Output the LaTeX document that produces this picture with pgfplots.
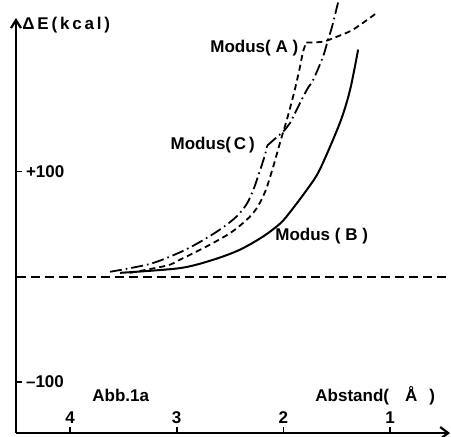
\documentclass[border=0pt]{standalone}
\usepackage{fontspec}
\setmainfont{Liberation Sans}
\usepackage{pgfplots}
\pgfplotsset{compat=1.18}
\usetikzlibrary{arrows.meta}

% Modus (B), solid
\pgfplotstableread{
d E
3.53 3.5
2.97 8
2.66 15.9
2.41 25.4
2.19 38.1
2.03 50.5
1.94 61
1.78 82.6
1.66 101.6
1.47 146.4
1.375 177.8
1.30 215.9
}\modusB

% Modus (A), dashed, lower branch
\pgfplotstableread{
d E
3.44 3.5
3.09 10.5
2.97 16
2.72 28.6
2.50 41.3
2.344 54
2.25 65
2.17 81
2.10 103
2.03 128
1.96 152
1.90 175
1.85 197
1.816 214
1.785 222.6
}\modusAlow

% Modus (A), dashed, upper branch
\pgfplotstableread{
d E
1.785 222.6
1.629 223.5
1.497 228.3
1.347 235
1.122 251.1
}\modusAup

% Modus (C), dash-dotted, lower branch
\pgfplotstableread{
d E
3.625 4.5
3.25 12
2.97 23
2.78 33
2.59 45
2.44 57
2.344 69
2.28 83
2.219 101
2.172 116
2.153 124.5
}\modusClow

% Modus (C), dash-dotted, upper branch
\pgfplotstableread{
d E
2.153 124.5
2.125 127
1.985 139.7
1.938 146.1
1.829 168.3
1.77 179.5
1.720 187.3
1.629 209.2
1.582 225.4
1.544 237.8
1.488 260.7
}\modusCup

\begin{document}
\begin{tikzpicture}
\begin{axis}[
  at={(0,0)}, anchor=south west,
  scale only axis, width=217pt, height=207.5pt,
  x dir=reverse,
  xmin=0.439, xmax=4.506,
  ymin=-148.9, ymax=246,
  axis x line=bottom, axis y line=left,
  axis line style={line width=1.1pt},
  x axis line style={{Straight Barb[length=4pt,width=6pt]}-},
  y axis line style={-{Straight Barb[length=4pt,width=5pt]}},
  xtick={1,2,3,4}, ytick={-100,100}, yticklabels={--100,+100},
  tick align=inside, major tick length=3pt,
  tick style={line width=0.9pt, black},
  every tick label/.append style={font=\bfseries\fontsize{8.5}{10}\selectfont},
  xticklabel style={anchor=south, yshift=1pt},
  yticklabel style={anchor=west, xshift=1.5pt},
  /pgf/number format/assume math mode=true,
  clip=false,
]
\addplot[black, line width=1pt, dash pattern=on 4.5pt off 2.5pt] coordinates {(4.5,0) (0.47,0)};
\addplot[black, line width=1pt, smooth, tension=0.5] table[x=d,y=E] {\modusB};
\addplot[black, line width=0.9pt, smooth, tension=0.5, dash pattern=on 3pt off 2pt] table[x=d,y=E] {\modusAlow};
\addplot[black, line width=0.9pt, smooth, tension=0.5, dash pattern=on 3pt off 2pt] table[x=d,y=E] {\modusAup};
\addplot[black, line width=0.9pt, smooth, tension=0.5, dash pattern=on 6pt off 2pt on 0.8pt off 2pt] table[x=d,y=E] {\modusClow};
\addplot[black, line width=0.9pt, smooth, tension=0.5, dash pattern=on 6pt off 2pt on 0.8pt off 2pt] table[x=d,y=E] {\modusCup};

\begin{scope}[every node/.style={font=\bfseries\fontsize{8.5}{10}\selectfont, inner sep=0pt}]
\node[anchor=base west] at (axis cs:4.45,235) {Δ\,E\,(\,k\,c\,a\,l\,)};
\node[anchor=base west] at (axis cs:2.688,213) {Modus( A )};
\node[anchor=base west] at (axis cs:3.06,120.7) {Modus(\,C\,)};
\node[anchor=base west] at (axis cs:2.079,34) {Modus ( B )};
\node[anchor=base west] at (axis cs:3.794,-119.3) {Abb.1a};
\node[anchor=base west] at (axis cs:1.704,-119.3) {Abstand(\hspace{8pt}Å\hspace{6pt})};
\end{scope}
\end{axis}
\pgfresetboundingbox
\path[use as bounding box] (-8pt,-1.5pt) rectangle (217.5pt,216.5pt);
\end{tikzpicture}
\end{document}
